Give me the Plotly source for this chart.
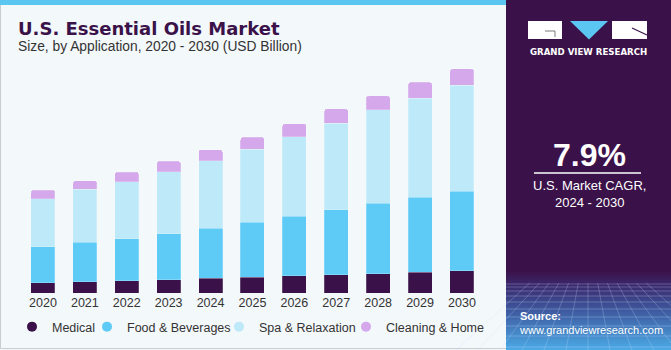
import plotly.graph_objects as go

years = ["2020", "2021", "2022", "2023", "2024", "2025", "2026", "2027", "2028", "2029", "2030"]
medical = [0.67, 0.74, 0.80, 0.87, 0.96, 1.04, 1.13, 1.19, 1.26, 1.34, 1.44]
food_bev = [2.35, 2.57, 2.74, 3.00, 3.26, 3.59, 3.87, 4.24, 4.61, 4.92, 5.20]
spa = [3.13, 3.46, 3.72, 4.05, 4.41, 4.77, 5.22, 5.66, 6.09, 6.46, 6.92]
cleaning = [0.57, 0.56, 0.64, 0.68, 0.74, 0.78, 0.83, 0.93, 0.91, 1.04, 1.07]
series_names = ["Medical", "Food & Beverages", "Spa & Relaxation", "Cleaning & Home"]
series_colors = ["#3a1249", "#5ecbf6", "#bde9f9", "#d4a8ea"]
highlight_year = "2022"
highlight_label = "$7.9B"
cagr_text = "7.9%"

W, H = 671, 350
ML, MR, MT, MB = 22, 60, 48, 57
PW, PH = W - ML - MR, H - MT - MB
CAT_W = 41.9
X_MAX = PW / CAT_W - 0.5


def px_x(x):
    return (x - ML) / PW


def px_y(y):
    return (H - MB - y) / PH


fig = go.Figure()
for name, vals, col in zip(series_names, [medical, food_bev, spa, cleaning], series_colors):
    fig.add_trace(go.Bar(x=years, y=vals, name=name,
                         marker=dict(color=col, line=dict(width=0.6, color="rgba(255,255,255,0.35)")),
                         showlegend=False, hoverinfo="skip"))
legend_ids = ["legend", "legend2", "legend3", "legend4"]
for name, col, lid in zip(series_names, series_colors, legend_ids):
    fig.add_trace(go.Scatter(x=[None], y=[None], mode="markers", name=name, legend=lid,
                             marker=dict(color=col, size=10, symbol="circle")))

shapes = []
# card background and border
shapes.append(dict(type="rect", xref="paper", yref="paper", x0=px_x(0.5), x1=px_x(520), y0=px_y(0), y1=px_y(348.5),
                   fillcolor="#f3f8fb", line=dict(color="#c8cdd2", width=1), layer="below"))
shapes.append(dict(type="rect", xref="paper", yref="paper", x0=px_x(0), x1=px_x(510), y0=px_y(0), y1=px_y(5),
                   fillcolor="#5bc6f0", line=dict(width=0), layer="below"))
# right panel
shapes.append(dict(type="rect", xref="paper", yref="paper", x0=px_x(506), x1=px_x(671), y0=px_y(0), y1=px_y(350),
                   fillcolor="#3a1249", line=dict(width=0), layer="below"))


def lerp(c1, c2, t):
    return "#%02x%02x%02x" % tuple(int(round(a + (b - a) * t)) for a, b in zip(c1, c2))


stops = [(270, (58, 18, 73)), (285, (60, 42, 110)), (310, (62, 90, 160)), (350, (76, 172, 232))]
for y in range(270, 350, 2):
    for (ya, ca), (yb, cb) in zip(stops[:-1], stops[1:]):
        if ya <= y < yb:
            c = lerp(ca, cb, (y - ya) / (yb - ya))
            break
    shapes.append(dict(type="rect", xref="paper", yref="paper", x0=px_x(506), x1=px_x(671), y0=px_y(y), y1=px_y(y + 2.2),
                       fillcolor=c, line=dict(width=0), layer="below"))
# perspective grid
for y in [284, 287, 291, 296, 302, 309, 317, 326, 336, 347]:
    shapes.append(dict(type="line", xref="paper", yref="paper", x0=px_x(506), x1=px_x(671), y0=px_y(y), y1=px_y(y),
                       line=dict(color="rgba(200,225,255,0.28)", width=1), layer="below"))
vx, vy = 588, 230
for bx in range(456, 730, 22):
    t = (283 - vy) / (350 - vy)
    x0 = vx + (bx - vx) * t
    if x0 >= 506:
        sx, sy = x0, 283
    else:
        sx = 506
        sy = vy + (350 - vy) * (506 - vx) / (bx - vx)
        if sy > 350:
            continue
    shapes.append(dict(type="line", xref="paper", yref="paper", x0=px_x(sx), x1=px_x(bx),
                       y0=px_y(sy), y1=px_y(350),
                       line=dict(color="rgba(200,225,255,0.25)", width=1), layer="below"))

# logo
shapes.append(dict(type="rect", xref="paper", yref="paper", x0=px_x(528), x1=px_x(562), y0=px_y(21), y1=px_y(39),
                   fillcolor="white", line=dict(width=0)))
shapes.append(dict(type="line", xref="paper", yref="paper", x0=px_x(545), x1=px_x(555), y0=px_y(31), y1=px_y(31),
                   line=dict(color="#7a7a7a", width=1)))
shapes.append(dict(type="line", xref="paper", yref="paper", x0=px_x(555), x1=px_x(555), y0=px_y(31), y1=px_y(37),
                   line=dict(color="#7a7a7a", width=1)))
shapes.append(dict(type="path", xref="paper", yref="paper",
                   path="M %f,%f L %f,%f L %f,%f Z" % (px_x(570), px_y(21), px_x(608), px_y(21), px_x(589), px_y(39.5)),
                   fillcolor="#5bc6f2", line=dict(width=0)))
shapes.append(dict(type="rect", xref="paper", yref="paper", x0=px_x(612), x1=px_x(647), y0=px_y(21), y1=px_y(39),
                   fillcolor="white", line=dict(width=0)))
shapes.append(dict(type="line", xref="paper", yref="paper", x0=px_x(632), x1=px_x(647), y0=px_y(28), y1=px_y(35),
                   line=dict(color="#3a1249", width=1.2)))
# CAGR divider
shapes.append(dict(type="line", xref="paper", yref="paper", x0=px_x(534), x1=px_x(641), y0=px_y(173), y1=px_y(173),
                   line=dict(color="white", width=1.5)))

ann = []
ann.append(dict(text="<b>U.S. Essential Oils Market</b>", xref="paper", yref="paper", x=px_x(16), y=px_y(29),
                xanchor="left", yanchor="middle", showarrow=False,
                font=dict(family="DejaVu Sans", size=18, color="#3a1249")))
ann.append(dict(text="Size, by Application, 2020 - 2030 (USD Billion)", xref="paper", yref="paper", x=px_x(16), y=px_y(47),
                xanchor="left", yanchor="middle", showarrow=False,
                font=dict(family="Liberation Sans, Arial", size=13.8, color="#333333")))
hi = years.index(highlight_year)
hi_total = medical[hi] + food_bev[hi] + spa[hi] + cleaning[hi]
ann.append(dict(text=highlight_label, x=highlight_year, y=hi_total, xref="x", yref="y", yanchor="bottom",
                yshift=6, showarrow=False, font=dict(family="Liberation Sans, Arial", size=13, color="#333333")))
ann.append(dict(text="<b>GRAND VIEW RESEARCH</b>", xref="paper", yref="paper", x=px_x(588), y=px_y(52),
                xanchor="center", yanchor="middle", showarrow=False,
                font=dict(family="DejaVu Sans", size=8.6, color="white")))
ann.append(dict(text="<b>" + cagr_text + "</b>", xref="paper", yref="paper", x=px_x(589), y=px_y(155),
                xanchor="center", yanchor="middle", showarrow=False,
                font=dict(family="Liberation Sans, Arial", size=32, color="white")))
ann.append(dict(text="U.S. Market CAGR,<br>2024 - 2030", xref="paper", yref="paper", x=px_x(589), y=px_y(194),
                xanchor="center", yanchor="middle", showarrow=False, align="center",
                font=dict(family="Liberation Sans, Arial", size=13, color="white")))
ann.append(dict(text="<b>Source:</b><br>www.grandviewresearch.com", xref="paper", yref="paper", x=px_x(517), y=px_y(323),
                xanchor="left", yanchor="middle", showarrow=False, align="left",
                font=dict(family="Liberation Sans, Arial", size=11, color="white")))

# legend dot x positions in reference (px), shifted slightly left to compensate for wider text gap
legend_dot_px = [33, 108, 240, 367]
legend_layout = {}
for lid, dx in zip(legend_ids, legend_dot_px):
    legend_layout[lid] = dict(orientation="h", xref="container", yref="container",
                              x=(dx - 21) / W, y=1 - 327 / H, xanchor="left", yanchor="middle",
                              font=dict(size=12.5, color="#333333"), itemwidth=30,
                              bgcolor="rgba(0,0,0,0)")

fig.update_layout(
    width=W, height=H,
    margin=dict(l=ML, r=MR, t=MT, b=MB),
    paper_bgcolor="#f3f8fb", plot_bgcolor="rgba(0,0,0,0)",
    barmode="stack", bargap=0.427, barcornerradius=3,
    font=dict(family="Liberation Sans, Arial", size=12.5, color="#333333"),
    xaxis=dict(type="category", showgrid=False, showline=False, zeroline=False, ticks="",
               tickfont=dict(size=12.5, color="#333333"), range=[-0.5, X_MAX], fixedrange=True,
               automargin=False),
    yaxis=dict(visible=False, range=[0, 16], fixedrange=True),
    shapes=shapes, annotations=ann,
    **legend_layout,
)

fig.write_html("out.html")
